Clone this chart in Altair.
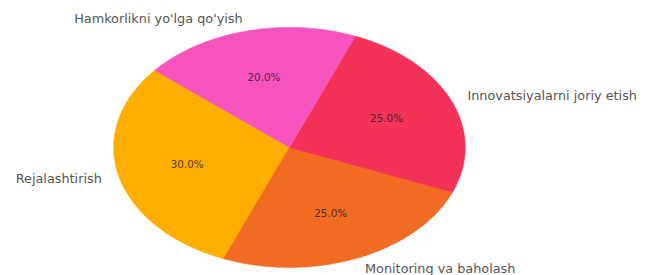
import altair as alt
import pandas as pd

categories = ["Rejalashtirish", "Monitoring va baholash",
              "Innovatsiyalarni joriy etish", "Hamkorlikni yo'lga qo'yish"]
values = [30, 25, 25, 20]
colors = ["#FFAE00", "#F26B22", "#F43157", "#F653BE"]

START_DEG = 140  # counter-clockwise start, like matplotlib startangle
NPTS = 80

df = pd.DataFrame({"category": categories, "value": values, "idx": list(range(len(values)))})

# plot area 641x267; pie centre at plot (285,139.5), radii 178 x 121.5
CX, CY, RX, RY = 285, 139.5, 178, 121.5
xscale = alt.Scale(domain=[-CX / RX, (641 - CX) / RX], nice=False, zero=False)
yscale = alt.Scale(domain=[(CY - 267) / RY, CY / RY], nice=False, zero=False)
cscale = alt.Scale(domain=categories, range=colors)

base = alt.Chart(df).transform_window(
    cum="sum(value)", sort=[alt.SortField("idx")], frame=[None, 0]
).transform_joinaggregate(
    total="sum(value)"
).transform_calculate(
    frac="datum.value / datum.total",
    a0=f"({START_DEG} + (datum.cum - datum.value) / datum.total * 360) * PI / 180",
    a1=f"({START_DEG} + datum.cum / datum.total * 360) * PI / 180",
)

wedges = base.transform_calculate(
    steps=f"sequence(0, {NPTS + 2})"
).transform_flatten(["steps"]).transform_calculate(
    t=f"clamp((datum.steps - 1) / ({NPTS} - 1), 0, 1)",
    r=f"(datum.steps == 0 || datum.steps == {NPTS + 1}) ? 0 : 1",
).transform_calculate(
    ang="datum.a0 + datum.t * (datum.a1 - datum.a0)"
).transform_calculate(
    px="datum.r * cos(datum.ang)",
    py="datum.r * sin(datum.ang)",
).mark_line(strokeWidth=0.6, interpolate="linear").encode(
    x=alt.X("px:Q", scale=xscale, axis=None),
    y=alt.Y("py:Q", scale=yscale, axis=None),
    order=alt.Order("steps:Q"),
    detail="category:N",
    fill=alt.Fill("category:N", scale=cscale, legend=None),
    stroke=alt.Stroke("category:N", scale=cscale, legend=None),
)

mids = base.transform_calculate(
    mid="(datum.a0 + datum.a1) / 2"
).transform_calculate(
    lx="1.1 * cos(datum.mid)",
    ly="1.1 * sin(datum.mid)",
    qx="0.6 * cos(datum.mid)",
    qy="0.6 * sin(datum.mid)",
)

label_style = dict(font="DejaVu Sans", fontSize=13, color="#555555", baseline="middle")

labels_right = mids.transform_filter("datum.lx > 0").mark_text(align="left", **label_style).encode(
    x=alt.X("lx:Q", scale=xscale, axis=None),
    y=alt.Y("ly:Q", scale=yscale, axis=None),
    text="category:N",
)
labels_left = mids.transform_filter("datum.lx <= 0").mark_text(align="right", **label_style).encode(
    x=alt.X("lx:Q", scale=xscale, axis=None),
    y=alt.Y("ly:Q", scale=yscale, axis=None),
    text="category:N",
)
pcts = mids.mark_text(align="center", baseline="middle", font="DejaVu Sans", fontSize=10.5,
                      color="#2a1a2a", opacity=0.8).encode(
    x=alt.X("qx:Q", scale=xscale, axis=None),
    y=alt.Y("qy:Q", scale=yscale, axis=None),
    text=alt.Text("frac:Q", format=".1%"),
)

chart = alt.layer(wedges, labels_right, labels_left, pcts).properties(
    width=641, height=267, padding=0, autosize=alt.AutoSizeParams(type="none")
).configure(background="white").configure_view(stroke=None, strokeWidth=0)

chart.save("out.html", embed_options={"renderer": "svg", "actions": False})
